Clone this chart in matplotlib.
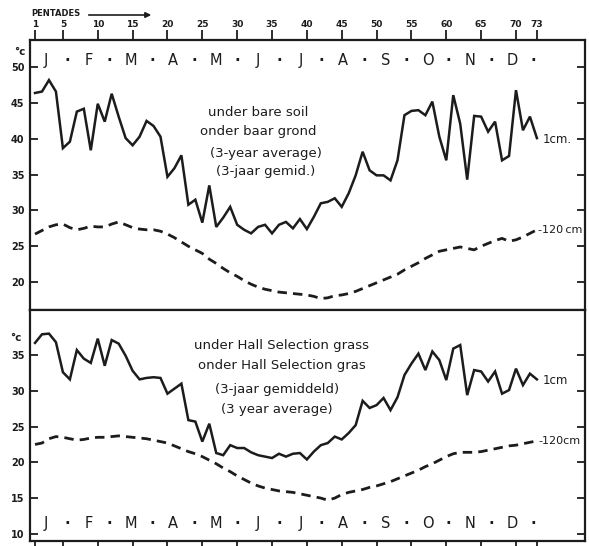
import numpy as np
import matplotlib
matplotlib.use("Agg")
from matplotlib import pyplot as plt

# soil temperature per pentade (5-day period)
pentade = np.arange(1, 74)

bare_1cm = [46.4, 46.6, 48.2, 46.6, 38.7, 39.6, 43.8, 44.2, 38.4, 44.9,
            42.4, 46.3, 43.1, 40.1, 39.1, 40.3, 42.5, 41.8, 40.3, 34.7,
            35.9, 37.7, 30.8, 31.5, 28.3, 33.5, 27.7, 29.0, 30.5, 28.0,
            27.3, 26.8, 27.7, 28.0, 26.8, 28.0, 28.4, 27.5, 28.8, 27.4,
            29.1, 31.0, 31.2, 31.7, 30.5, 32.4, 34.9, 38.2, 35.6, 34.9,
            34.9, 34.2, 37.0, 43.3, 43.9, 44.0, 43.3, 45.2, 40.3, 37.0,
            46.1, 42.1, 34.3, 43.2, 43.1, 41.0, 42.4, 37.0, 37.6, 46.8,
            41.2, 43.1, 40.1]

bare_120cm = [26.7, 27.2, 27.7, 28.0, 28.1, 27.6, 27.3, 27.5, 27.8, 27.7,
              27.7, 28.1, 28.4, 28.0, 27.6, 27.4, 27.3, 27.3, 27.1, 26.7,
              26.2, 25.6, 25.0, 24.5, 24.0, 23.2, 22.6, 21.9, 21.3, 20.8,
              20.2, 19.7, 19.3, 19.0, 18.8, 18.6, 18.5, 18.4, 18.3, 18.2,
              18.0, 17.7, 17.8, 18.1, 18.2, 18.4, 18.7, 19.1, 19.5, 19.9,
              20.3, 20.7, 21.1, 21.7, 22.2, 22.7, 23.3, 23.8, 24.3, 24.5,
              24.7, 24.9, 24.7, 24.5, 25.0, 25.4, 25.8, 26.1, 25.7, 25.9,
              26.3, 26.8, 27.3]

grass_1cm = [36.7, 37.9, 38.0, 36.8, 32.6, 31.6, 35.7, 34.5, 33.9, 37.3,
             33.5, 37.1, 36.6, 34.9, 32.8, 31.6, 31.8, 31.9, 31.8, 29.6,
             30.3, 31.0, 25.9, 25.7, 22.9, 25.4, 21.3, 21.0, 22.4, 22.0,
             22.0, 21.4, 21.0, 20.8, 20.6, 21.2, 20.8, 21.2, 21.3, 20.4,
             21.5, 22.4, 22.7, 23.6, 23.2, 24.1, 25.2, 28.6, 27.6, 28.0,
             29.0, 27.3, 29.1, 32.2, 33.8, 35.2, 32.9, 35.5, 34.3, 31.5,
             35.9, 36.4, 29.4, 32.9, 32.7, 31.3, 32.7, 29.6, 30.1, 33.1,
             30.8, 32.4, 31.6]

grass_120cm = [22.5, 22.7, 23.3, 23.6, 23.5, 23.3, 23.1, 23.2, 23.4, 23.5,
               23.5, 23.6, 23.7, 23.6, 23.5, 23.4, 23.3, 23.1, 22.9, 22.7,
               22.3, 21.9, 21.5, 21.2, 20.8, 20.3, 19.8, 19.2, 18.7, 18.1,
               17.6, 17.1, 16.7, 16.4, 16.2, 16.0, 15.9, 15.8, 15.6, 15.4,
               15.2, 15.0, 14.7, 15.0, 15.5, 15.8, 16.0, 16.2, 16.5, 16.7,
               17.0, 17.3, 17.7, 18.1, 18.5, 18.9, 19.4, 19.8, 20.3, 20.8,
               21.2, 21.4, 21.4, 21.4, 21.5, 21.7, 21.9, 22.1, 22.3, 22.4,
               22.6, 22.8, 23.0]

pentade_ticks = [1, 5, 10, 15, 20, 25, 30, 35, 40, 45, 50, 55, 60, 65, 70, 73]
months = ["J", "F", "M", "A", "M", "J", "J", "A", "S", "O", "N", "D"]
top_yticks = [20, 25, 30, 35, 40, 45, 50]
bottom_yticks = [10, 15, 20, 25, 30, 35]

top_text = ["under bare soil", "onder baar grond", "(3-year average)", "(3-jaar gemid.)"]
bottom_text = ["under Hall Selection grass", "onder Hall Selection gras",
               "(3-jaar gemiddeld)", "(3 year average)"]

INK = "#1c1c1c"
plt.rcParams['font.family'] = ['DejaVu Sans']

W, H = 589, 546
fig = plt.figure(figsize=(W / 100, H / 100), dpi=100)
fig.patch.set_facecolor("white")

XL = (0.28, 79.9)
ax1 = fig.add_axes([30 / W, 1 - 310 / H, 555 / W, 270 / H])
ax2 = fig.add_axes([30 / W, 1 - 541 / H, 555 / W, 231 / H])


def style(ax, yticks, ylim):
    ax.set_xlim(*XL)
    ax.set_ylim(*ylim)
    for s in ax.spines.values():
        s.set_linewidth(1.6)
        s.set_color(INK)
    ax.set_yticks(yticks)
    ax.set_yticklabels([str(v) for v in yticks], fontsize=7, fontweight="bold", color=INK)
    ax.tick_params(axis="y", direction="in", length=6, width=1.3, pad=4,
                   right=True, left=True, colors=INK)


style(ax1, top_yticks, (16.1, 53.8))
style(ax2, bottom_yticks, (9.0, 41.3))

ax1.xaxis.tick_top()
ax1.set_xticks(pentade_ticks)
ax1.set_xticklabels([str(v) for v in pentade_ticks], fontsize=6.5, fontweight="bold", color=INK)
ax1.tick_params(axis="x", direction="out", length=7, width=1.3, pad=1, colors=INK)

ax2.set_xticks(pentade_ticks)
ax2.set_xticklabels([])
ax2.tick_params(axis="x", direction="out", length=5, width=1.3, colors=INK)

# curves
for ax, hot, deep in [(ax1, bare_1cm, bare_120cm), (ax2, grass_1cm, grass_120cm)]:
    ax.plot(pentade, hot, color=INK, lw=1.8, solid_joinstyle="miter")
    ax.plot(pentade, deep, color=INK, lw=2.0, dashes=(3.4, 2.2))

# month letters
mpos = 2.6 + 6.08 * np.arange(12)
for ax, yv in [(ax1, 51.0), (ax2, 11.4)]:
    for m, p in zip(months, mpos):
        ax.text(p, yv, m, ha="center", va="center", fontsize=10.5, color=INK)
        ax.text(p + 3.04, yv, "\u00b7", ha="center", va="center", fontsize=10.5,
                fontweight="bold", color=INK)

# curve labels
ax1.annotate("1cm.", (73, bare_1cm[-1]), xytext=(4, -1), textcoords="offset points",
             fontsize=8.5, va="center", color=INK)
ax1.annotate("-120\u2009cm", (73, bare_120cm[-1]), xytext=(1, 0), textcoords="offset points",
             fontsize=8, va="center", color=INK)
ax2.annotate("1cm", (73, grass_1cm[-1]), xytext=(4, -1), textcoords="offset points",
             fontsize=8.5, va="center", color=INK)
ax2.annotate("-120cm", (73, grass_120cm[-1]), xytext=(1, 0), textcoords="offset points",
             fontsize=8, va="center", color=INK)

# explanatory text
for i, (t, yy) in enumerate(zip(top_text, [113, 131, 153, 171])):
    x0 = 258 if i < 2 else 266
    fig.text(x0 / W, 1 - yy / H, t, ha="center", va="center", fontsize=9.5, color=INK)
for i, (t, yy) in enumerate(zip(bottom_text, [346, 366, 390, 409])):
    x0 = 282 if i < 2 else 277
    fig.text(x0 / W, 1 - yy / H, t, ha="center", va="center", fontsize=9.5, color=INK)

# axis unit and pentade caption
fig.text(20 / W, 1 - 52 / H, "°c", ha="center", va="center", fontsize=7.5,
         fontweight="bold", color=INK)
fig.text(16 / W, 1 - 338 / H, "°c", ha="center", va="center", fontsize=7.5,
         fontweight="bold", color=INK)
fig.text(31 / W, 1 - 14 / H, "PENTADES", ha="left", va="center", fontsize=6,
         fontweight="bold", color=INK)
fig.patches.append(matplotlib.patches.FancyArrowPatch(
    (86 / W, 1 - 15 / H), (154 / W, 1 - 15 / H), transform=fig.transFigure,
    arrowstyle="-|>", mutation_scale=8, lw=1.2, color=INK))

fig.savefig("out.png", dpi=100, facecolor="white")
